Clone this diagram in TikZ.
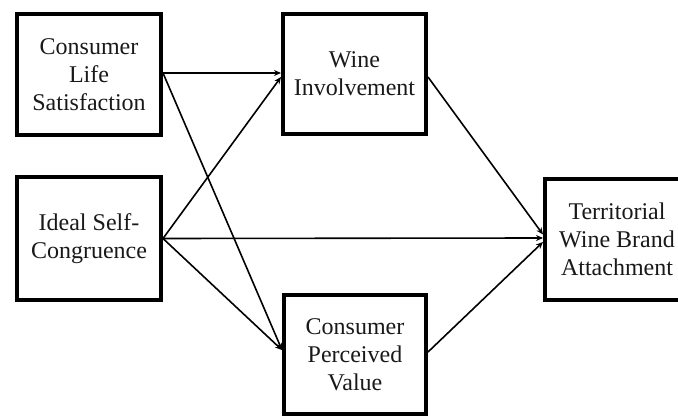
\documentclass[tikz,border=0pt]{standalone}
\usepackage{fontspec}
\setmainfont{Liberation Serif}
\usetikzlibrary{arrows.meta}
\begin{document}
\begin{tikzpicture}[x=1pt,y=-1pt,
  box/.style={draw=black,line width=4pt,align=center,inner sep=0pt,
    font=\fontsize{24}{28}\selectfont,text=black!90},
  conn/.style={line width=1.6pt,-{Stealth[length=7pt,width=6pt]}}]
\useasboundingbox (0,0) rectangle (678,417);
\node[box,minimum width=144pt,minimum height=121pt] (cls) at (89,74.5) {Consumer\\Life\\Satisfaction};
\node[box,minimum width=144pt,minimum height=123pt] (isc) at (89,238.5) {Ideal Self-\\Congruence};
\node[box,minimum width=143pt,minimum height=120pt] (wi) at (354.5,74) {Wine\\Involvement};
\node[box,minimum width=142pt,minimum height=119pt] (cpv) at (355,354.5) {Consumer\\Perceived\\Value};
\node[box,minimum width=144pt,minimum height=121pt] (twba) at (617,239.5) {Territorial\\Wine Brand\\Attachment};
\draw[conn] ([yshift=1.5pt]cls.east) -- ([yshift=1pt]wi.west);
\draw[conn] ([yshift=1.5pt]cls.east) -- ([yshift=4.5pt]cpv.west);
\draw[conn] (isc.east) -- ([yshift=-3pt]wi.west);
\draw[conn] (isc.east) -- ([yshift=1.5pt]twba.west);
\draw[conn] (isc.east) -- ([yshift=4.5pt]cpv.west);
\draw[conn] ([yshift=-3pt]wi.east) -- ([yshift=5pt]twba.west);
\draw[conn] ([yshift=2.5pt]cpv.east) -- ([yshift=-2.5pt]twba.west);
\end{tikzpicture}
\end{document}
